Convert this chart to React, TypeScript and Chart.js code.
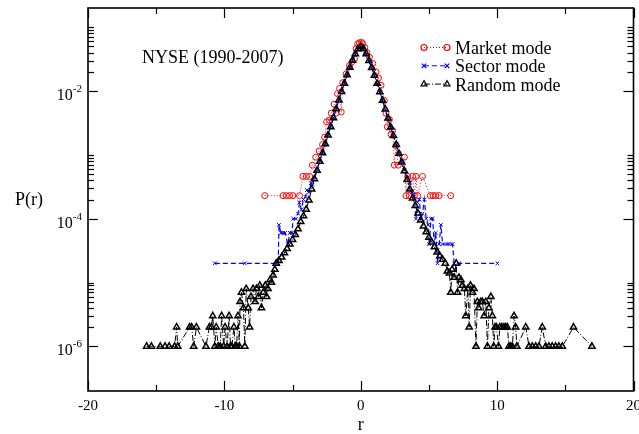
import { useEffect, useRef } from "react";
import { Chart, registerables } from "chart.js";

Chart.register(...registerables);

// ---------- axis / label data ----------
const xRange = [-20, 20];
const yRange = [2e-7, 0.2];
const xMajorTicks = [-20, -10, 0, 10, 20];
const xTickLabels = ["-20", "-10", "0", "10", "20"];
const xMinorTicks = [-15, -5, 5, 15];
const yMajorTicks = [1e-6, 1e-4, 1e-2];
const yTickExponents = ["-6", "-4", "-2"];
const yMinorTicks = [
  2e-6, 3e-6, 4e-6, 5e-6, 6e-6, 7e-6, 8e-6, 9e-6, 1e-5,
  2e-4, 3e-4, 4e-4, 5e-4, 6e-4, 7e-4, 8e-4, 9e-4, 1e-3,
  2e-2, 3e-2, 4e-2, 5e-2, 6e-2, 7e-2, 8e-2, 9e-2, 1e-1,
];
const seriesNames = ["Market mode", "Sector mode", "Random mode"];
const annotationText = "NYSE (1990-2007)";
const xTitle = "r";
const yTitle = "P(r)";

// ---------- series data: [r, P(r)] ----------
const marketMode: [number, number][] = [
  [-7.04, 2.3e-4], [-5.7, 2.3e-4], [-5.46, 2.3e-4], [-5.22, 2.3e-4], [-4.97, 2.3e-4],
  [-4.49, 2.3e-4], [-4.24, 4.6e-4], [-3.99, 4.6e-4], [-3.75, 4.6e-4], [-3.55, 6.9e-4],
  [-3.3, 9.2e-4], [-3.05, 1.15e-3], [-2.8, 1.45e-3], [-2.65, 1.9e-3], [-2.5, 3.3e-3],
  [-2.3, 3.5e-3], [-2.16, 4.5e-3], [-1.95, 6.2e-3], [-1.8, 4.5e-3], [-1.7, 9.1e-3],
  [-1.55, 1.1e-2], [-1.43, 4.7e-3], [-1.32, 1.35e-2], [-1.07, 1.86e-2], [-0.83, 2.5e-2],
  [-0.62, 2.9e-2], [-0.46, 3.2e-2], [-0.34, 4.6e-2], [-0.22, 5.5e-2], [-0.1, 5.7e-2],
  [0.05, 5.8e-2], [0.15, 5.5e-2], [0.3, 4.8e-2], [0.45, 4.0e-2], [0.64, 3.4e-2],
  [0.88, 2.7e-2], [1.12, 2.0e-2], [1.3, 1.6e-2], [1.49, 1.23e-2], [1.73, 7.1e-3],
  [1.85, 4.5e-3], [1.95, 2.75e-3], [2.1, 3.6e-3], [2.22, 2.1e-3], [2.34, 2.4e-3],
  [2.46, 6.9e-4], [2.59, 1.4e-3], [2.75, 6.9e-4], [3.2, 9.2e-4], [3.32, 2.3e-4],
  [3.44, 4.6e-4], [3.56, 2.3e-4], [3.8, 4.6e-4], [3.93, 2.3e-4], [4.05, 4.6e-4],
  [4.17, 2.3e-4], [4.53, 4.6e-4], [5.1, 2.3e-4], [5.3, 2.3e-4], [5.5, 2.3e-4],
  [5.75, 2.3e-4], [6.6, 2.3e-4],
];

const sectorLeft: [number, number][] = [
  [-10.7, 2e-5], [-8.5, 2e-5], [-6.05, 2e-5], [-6.0, 8e-5], [-5.85, 6e-5], [-5.7, 6e-5],
  [-5.55, 6e-5], [-5.35, 4e-5], [-5.2, 6e-5], [-5.05, 6e-5], [-4.95, 1e-4], [-4.75, 1e-4],
  [-4.6, 1.2e-4], [-4.5, 1.8e-4], [-4.35, 1.4e-4], [-4.2, 2e-4], [-4.05, 2.2e-4],
  [-3.95, 2.8e-4], [-3.8, 2.6e-4], [-3.65, 3.6e-4], [-3.55, 3.4e-4],
];
const sectorCore: [number, number][] = [
  [-3.4, 4.4e-4], [-3.2, 5.9e-4], [-3.0, 8.1e-4], [-2.8, 1.1e-3], [-2.6, 1.5e-3],
  [-2.4, 2.07e-3], [-2.2, 2.8e-3], [-2.0, 3.85e-3], [-1.8, 5.3e-3], [-1.6, 7.3e-3],
  [-1.4, 9.9e-3], [-1.2, 1.33e-2], [-1.0, 1.79e-2], [-0.8, 2.35e-2], [-0.6, 3.0e-2],
  [-0.4, 3.78e-2], [-0.2, 4.5e-2], [0.0, 4.9e-2], [0.2, 4.55e-2], [0.4, 3.8e-2],
  [0.6, 2.98e-2], [0.8, 2.3e-2], [1.0, 1.75e-2], [1.2, 1.3e-2], [1.4, 9.6e-3],
  [1.6, 7.0e-3], [1.8, 5.1e-3], [2.0, 3.7e-3], [2.2, 2.7e-3], [2.4, 1.98e-3],
  [2.6, 1.45e-3], [2.8, 1.06e-3], [3.0, 7.8e-4], [3.2, 5.8e-4], [3.4, 4.4e-4],
];
const sectorRight: [number, number][] = [
  [3.6, 3.6e-4], [3.75, 2.6e-4], [3.9, 2.4e-4], [4.05, 1.0e-4], [4.15, 1.8e-4],
  [4.3, 2e-4], [4.4, 1e-4], [4.53, 1.2e-4], [4.66, 2e-4], [4.8, 1e-4], [4.95, 8e-5],
  [5.02, 4e-5], [5.15, 1e-4], [5.27, 1e-4], [5.39, 4e-5], [5.5, 6e-5], [5.63, 2e-5],
  [5.75, 4e-5], [5.88, 8e-5], [6.0, 4e-5], [6.36, 4e-5], [6.5, 4e-5], [6.73, 4e-5],
  [6.85, 2e-5], [7.22, 2e-5], [10.02, 2e-5],
];

const randomLeft: [number, number][] = [
  [-15.7, 1e-6], [-15.35, 1e-6], [-14.7, 1e-6], [-14.35, 1e-6], [-14.05, 1e-6],
  [-13.65, 1e-6], [-13.5, 2e-6], [-13.42, 1e-6], [-12.55, 2e-6], [-12.4, 2e-6],
  [-12.25, 1e-6], [-12.05, 2e-6], [-11.35, 1e-6], [-11.1, 2e-6], [-10.95, 2e-6],
  [-10.85, 3e-6], [-10.7, 1e-6], [-10.6, 2e-6], [-10.45, 1e-6], [-10.3, 1e-6],
  [-10.2, 3e-6], [-10.05, 1e-6], [-9.95, 2e-6], [-9.8, 1e-6], [-9.65, 3e-6],
  [-9.55, 1e-6], [-9.45, 1e-6], [-9.3, 2e-6], [-9.2, 1e-6], [-9.1, 1e-6],
  [-9.0, 3e-6], [-8.9, 1e-6], [-8.85, 5e-6], [-8.75, 7e-6], [-8.6, 4e-6],
  [-8.5, 1e-6], [-8.4, 8e-6], [-8.25, 4e-6], [-8.15, 2e-6], [-8.05, 6e-6],
  [-7.9, 8e-6], [-7.75, 5e-6], [-7.65, 8e-6], [-7.5, 6e-6], [-7.4, 9e-6],
  [-7.28, 4e-6], [-7.15, 7e-6], [-7.0, 9e-6], [-6.9, 6e-6], [-6.8, 8e-6],
  [-6.65, 1.1e-5], [-6.55, 1.0e-5], [-6.43, 1.3e-5], [-6.3, 1.6e-5], [-6.2, 2.0e-5],
];
const randomCore: [number, number][] = [
  [-6.0, 2.2e-5], [-5.8, 2.5e-5], [-5.6, 2.9e-5], [-5.4, 3.4e-5], [-5.2, 4.0e-5],
  [-5.0, 4.7e-5], [-4.8, 5.6e-5], [-4.6, 6.9e-5], [-4.4, 9.0e-5], [-4.2, 1.1e-4],
  [-4.0, 1.4e-4], [-3.8, 1.95e-4], [-3.6, 2.9e-4], [-3.4, 4.2e-4], [-3.2, 5.7e-4],
  [-3.0, 7.9e-4], [-2.8, 1.07e-3], [-2.6, 1.48e-3], [-2.4, 2.04e-3], [-2.2, 2.75e-3],
  [-2.0, 3.8e-3], [-1.8, 5.25e-3], [-1.6, 7.2e-3], [-1.4, 9.8e-3], [-1.2, 1.32e-2],
  [-1.0, 1.78e-2], [-0.8, 2.34e-2], [-0.6, 3.02e-2], [-0.4, 3.8e-2], [-0.2, 4.57e-2],
  [0.0, 5.0e-2], [0.2, 4.6e-2], [0.4, 3.82e-2], [0.6, 3.0e-2], [0.8, 2.32e-2],
  [1.0, 1.76e-2], [1.2, 1.31e-2], [1.4, 9.7e-3], [1.6, 7.1e-3], [1.8, 5.2e-3],
  [2.0, 3.75e-3], [2.2, 2.72e-3], [2.4, 2.0e-3], [2.6, 1.45e-3], [2.8, 1.05e-3],
  [3.0, 7.7e-4], [3.2, 5.6e-4], [3.4, 4.1e-4], [3.6, 2.9e-4], [3.8, 2.1e-4],
  [4.0, 1.6e-4], [4.2, 1.22e-4], [4.4, 9.5e-5], [4.6, 7.6e-5], [4.8, 6.2e-5],
  [5.0, 5.1e-5], [5.2, 4.3e-5], [5.4, 3.6e-5], [5.6, 3.0e-5], [5.8, 2.6e-5],
  [6.0, 2.3e-5],
];
const randomRight: [number, number][] = [
  [6.2, 2.0e-5], [6.35, 1.5e-5], [6.5, 1.4e-5], [6.6, 7e-6], [6.7, 1.6e-5],
  [6.85, 1.2e-5], [7.0, 2.0e-5], [7.1, 7e-6], [7.2, 1.2e-5], [7.35, 1.1e-5],
  [7.45, 9e-6], [7.6, 8e-6], [7.7, 3e-6], [7.85, 8e-6], [7.95, 2e-6],
  [8.05, 9e-6], [8.2, 7e-6], [8.3, 8e-6], [8.45, 1e-6], [8.55, 5e-6],
  [8.65, 4e-6], [8.8, 5e-6], [8.92, 5e-6], [9.05, 3e-6], [9.17, 5e-6],
  [9.29, 1e-6], [9.4, 4e-6], [9.54, 6e-6], [9.65, 3e-6], [9.75, 1e-6],
  [9.85, 2e-6], [9.95, 2e-6], [10.1, 1e-6], [10.2, 2e-6], [10.35, 2e-6],
  [10.5, 2e-6], [10.63, 2e-6], [10.75, 2e-6], [10.87, 1e-6], [11.0, 1e-6],
  [11.12, 1e-6], [11.24, 3e-6], [11.36, 2e-6], [11.45, 1e-6], [12.1, 2e-6],
  [12.34, 1e-6], [12.58, 1e-6], [12.83, 1e-6], [13.07, 1e-6], [13.31, 2e-6],
  [13.56, 1e-6], [13.8, 1e-6], [14.04, 1e-6], [14.29, 1e-6], [14.53, 1e-6],
  [14.78, 1e-6], [15.6, 2e-6], [16.95, 1e-6],
];

const sectorMode = [...sectorLeft, ...sectorCore, ...sectorRight];
const randomMode = [...randomLeft, ...randomCore, ...randomRight];

const SERIF = '"Liberation Serif", "Times New Roman", "DejaVu Serif", serif';

type Style = { color: string; dash: number[]; marker: string };
const styles: Style[] = [
  { color: "#ff0000", dash: [1, 2], marker: "circle" },
  { color: "#0000ff", dash: [5, 3], marker: "crossRot" },
  { color: "#000000", dash: [6, 2, 1, 2], marker: "triangle" },
];

function drawMarker(ctx: CanvasRenderingContext2D, kind: string, x: number, y: number, color: string) {
  ctx.save();
  ctx.setLineDash([]);
  ctx.strokeStyle = color;
  ctx.lineWidth = 1.2;
  ctx.beginPath();
  if (kind === "circle") {
    ctx.arc(x, y, 3, 0, Math.PI * 2);
  } else if (kind === "crossRot") {
    const r = 2.2;
    ctx.moveTo(x - r, y - r); ctx.lineTo(x + r, y + r);
    ctx.moveTo(x + r, y - r); ctx.lineTo(x - r, y + r);
  } else {
    const r = 3.5;
    ctx.moveTo(x, y - r);
    ctx.lineTo(x + r * 0.866, y + r * 0.5);
    ctx.lineTo(x - r * 0.866, y + r * 0.5);
    ctx.closePath();
  }
  ctx.stroke();
  ctx.restore();
}

const decorPlugin = {
  id: "decor",
  afterDraw(chart: any) {
    const { ctx, chartArea: ca, scales } = chart;
    const xs = scales.x;
    const ys = scales.y;
    ctx.save();
    ctx.setLineDash([]);
    ctx.strokeStyle = "#000";
    ctx.fillStyle = "#000";
    // frame
    ctx.lineWidth = 1.6;
    ctx.strokeRect(ca.left, ca.top, ca.right - ca.left, ca.bottom - ca.top);
    // ticks
    ctx.lineWidth = 1.2;
    const seg = (x1: number, y1: number, x2: number, y2: number) => {
      ctx.beginPath(); ctx.moveTo(x1, y1); ctx.lineTo(x2, y2); ctx.stroke();
    };
    xMajorTicks.forEach((v) => {
      const px = Math.round(xs.getPixelForValue(v)) + 0.5;
      seg(px, ca.bottom, px, ca.bottom - 10);
      seg(px, ca.top, px, ca.top + 10);
    });
    xMinorTicks.forEach((v) => {
      const px = Math.round(xs.getPixelForValue(v)) + 0.5;
      seg(px, ca.bottom, px, ca.bottom - 6);
      seg(px, ca.top, px, ca.top + 6);
    });
    yMajorTicks.forEach((v) => {
      const py = Math.round(ys.getPixelForValue(v)) + 0.5;
      seg(ca.left, py, ca.left + 10, py);
      seg(ca.right, py, ca.right - 10, py);
    });
    yMinorTicks.forEach((v) => {
      const py = Math.round(ys.getPixelForValue(v)) + 0.5;
      seg(ca.left, py, ca.left + 6, py);
      seg(ca.right, py, ca.right - 6, py);
    });
    // x tick labels
    ctx.font = `15px ${SERIF}`;
    ctx.textAlign = "center";
    ctx.textBaseline = "alphabetic";
    xMajorTicks.forEach((v, i) => {
      ctx.fillText(xTickLabels[i], xs.getPixelForValue(v), 410);
    });
    // y tick labels: 10^exp
    yMajorTicks.forEach((v, i) => {
      const py = ys.getPixelForValue(v);
      const right = ca.left - 6;
      ctx.font = `11px ${SERIF}`;
      ctx.textAlign = "right";
      const supW = ctx.measureText(yTickExponents[i]).width;
      ctx.fillText(yTickExponents[i], right, py + 1);
      ctx.font = `16px ${SERIF}`;
      ctx.fillText("10", right - supW, py + 9);
    });
    // axis titles
    ctx.font = `18px ${SERIF}`;
    ctx.textAlign = "center";
    ctx.fillText(xTitle, xs.getPixelForValue(0), 430);
    ctx.fillText(yTitle, 29, 205);
    // annotation
    ctx.textAlign = "left";
    ctx.fillText(annotationText, 142, 63);
    // legend
    const baselines = [54, 72.3, 90.6];
    seriesNames.forEach((name, i) => {
      const st = styles[i];
      const yb = baselines[i];
      const ly = yb - 6.5;
      ctx.save();
      ctx.strokeStyle = st.color;
      ctx.lineWidth = 1;
      ctx.setLineDash(st.dash);
      ctx.beginPath(); ctx.moveTo(424, ly); ctx.lineTo(447, ly); ctx.stroke();
      ctx.restore();
      drawMarker(ctx, st.marker, 424, ly, st.color);
      drawMarker(ctx, st.marker, 447, ly, st.color);
      ctx.fillStyle = "#000";
      ctx.font = `18px ${SERIF}`;
      ctx.textAlign = "left";
      ctx.fillText(name, 455, yb);
    });
    ctx.restore();
  },
};

export default function App() {
  const canvasRef = useRef<HTMLCanvasElement | null>(null);

  useEffect(() => {
    if (!canvasRef.current) return;
    const toPts = (arr: [number, number][]) => arr.map(([x, y]) => ({ x, y }));
    const all = [marketMode, sectorMode, randomMode];
    const chart = new Chart(canvasRef.current, {
      type: "scatter",
      data: {
        datasets: all.map((arr, i) => ({
          label: seriesNames[i],
          data: toPts(arr),
          showLine: true,
          borderColor: styles[i].color,
          borderWidth: i === 1 ? 1.2 : 1,
          borderDash: styles[i].dash,
          pointStyle: styles[i].marker as any,
          pointRadius: i === 0 ? 3 : i === 1 ? 2.6 : 3.6,
          pointBorderWidth: i === 2 ? 1.5 : 1,
          pointBorderColor: styles[i].color,
          pointBackgroundColor: "rgba(0,0,0,0)",
          tension: 0,
          order: 2 - i,
        })),
      },
      options: {
        animation: false,
        responsive: false,
        events: [],
        layout: { padding: { left: 88, top: 8, right: 4, bottom: 43 } },
        plugins: { legend: { display: false }, tooltip: { enabled: false } },
        scales: {
          x: { type: "linear", min: xRange[0], max: xRange[1], display: false },
          y: { type: "logarithmic", min: yRange[0], max: yRange[1], display: false },
        },
      },
      plugins: [decorPlugin],
    });
    return () => chart.destroy();
  }, []);

  return (
    <div style={{ position: "absolute", left: 0, top: 0, width: 639, height: 434, background: "#fff" }}>
      <canvas ref={canvasRef} width={639} height={434} style={{ display: "block" }} />
    </div>
  );
}
